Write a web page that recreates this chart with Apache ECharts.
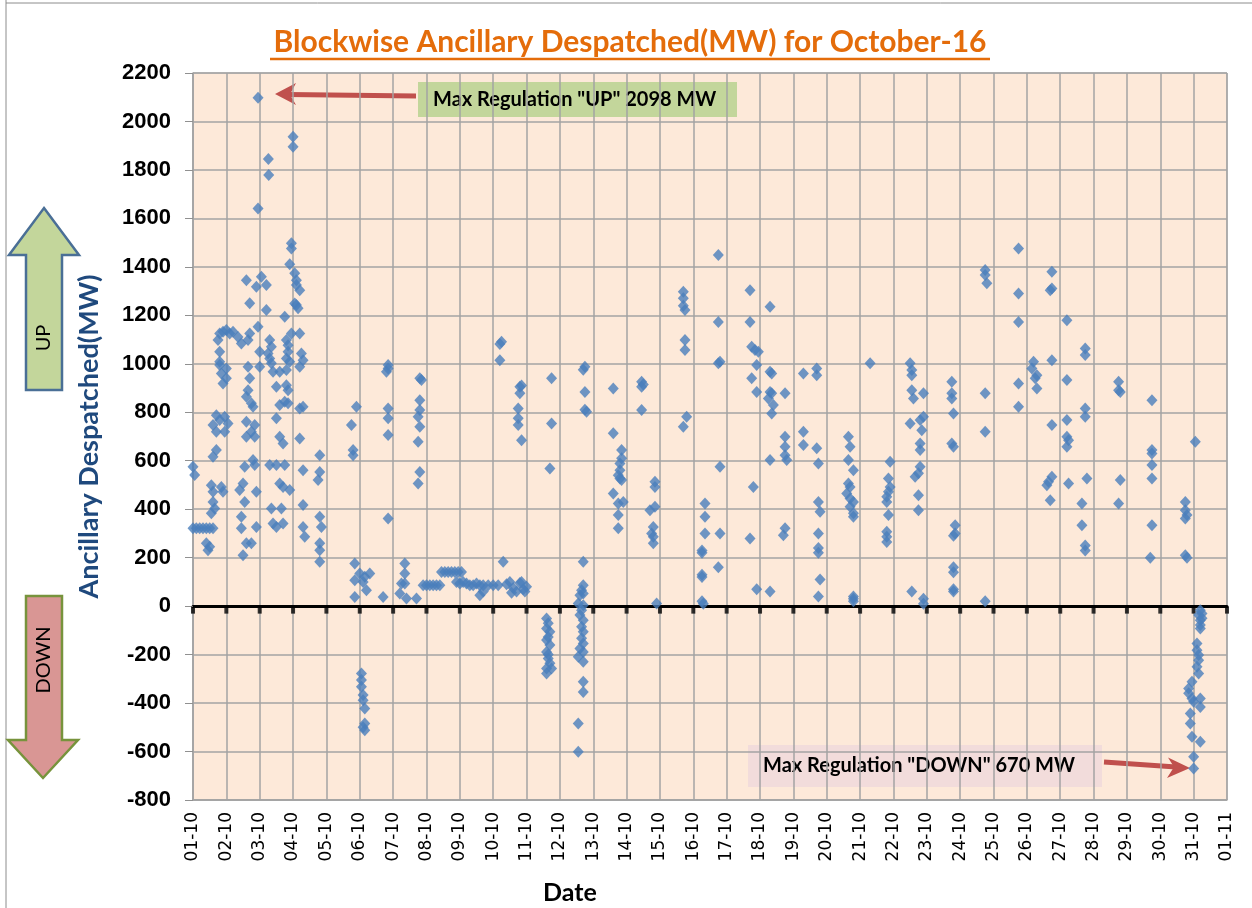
<!DOCTYPE html>
<html><head><meta charset="utf-8">
<script src="https://cdn.jsdelivr.net/npm/echarts@6/dist/echarts.min.js"></script>
<style>html,body{margin:0;padding:0;background:#fff}#c{width:1252px;height:908px}</style>
</head><body><div id="c"></div><script>
const tickLabels = ['01-10','02-10','03-10','04-10','05-10','06-10','07-10','08-10','09-10','10-10','11-10','12-10','13-10','14-10','15-10','16-10','17-10','18-10','19-10','20-10','21-10','22-10','23-10','24-10','25-10','26-10','27-10','28-10','29-10','30-10','31-10','01-11'];

// [day of month (fractional), MW]
const days01to03 = [[1.00,575],[1.05,541],[1.00,321],[1.10,321],[1.20,321],[1.30,321],[1.40,321],[1.50,321],[1.60,321],[1.40,259],[1.45,231],[1.50,245],[1.55,499],[1.60,472],[1.85,492],[1.90,472],[1.60,430],[1.65,403],[1.55,383],[1.70,644],[1.60,616],[1.70,788],[1.95,781],[1.60,747],[2.05,754],[1.70,720],[1.95,720],[1.80,768],[1.80,1050],[1.80,1008],[1.80,995],[2.00,981],[1.85,960],[2.00,940],[1.90,919],[1.80,1125],[2.00,1139],[2.20,1132],[2.35,1111],[2.45,1084],[1.75,1098],[1.90,1132],[2.10,1125],[2.70,1125],[2.65,1098],
[2.50,506],[2.40,479],[2.90,472],[2.55,430],[2.45,369],[2.45,321],[2.90,327],[2.60,259],[2.75,259],[2.50,210],[2.55,575],[2.80,603],[2.85,582],[2.60,761],[2.85,747],[2.75,720],[2.60,699],[2.85,699],[2.65,891],[2.60,864],[2.75,837],[2.80,823],[2.65,988],[2.70,940],[3.00,988],[3.00,1050],[2.95,1153],[2.60,1345],[3.05,1359],[2.90,1318],[3.20,1325],[2.70,1250],[3.20,1222],[2.95,1641],[2.95,2098],[3.26,1845],[3.27,1779]];

const days03to05 = [[3.40,967],[3.60,967],[3.80,974],[3.50,905],[3.80,912],[3.85,891],[3.60,830],[3.75,843],[3.85,837],[3.50,775],[3.60,699],[3.70,671],[3.30,582],[3.50,582],[3.75,582],[3.60,506],[3.70,492],[3.90,479],[3.35,403],[3.65,403],[3.40,341],[3.70,341],[3.50,327],[3.25,1043],[3.30,1022],[3.35,1002],[3.30,1098],[3.35,1070],[3.80,1098],[3.85,1077],[3.85,1050],[3.80,1022],[3.90,1008],[3.95,1125],[4.20,1125],[4.25,1043],[4.30,1015],[4.20,988],[4.30,823],[4.20,816],[4.20,692],[4.30,561],[4.30,417],[4.30,327],[4.35,286],[3.75,1194],[4.10,1243],[4.05,1249],[4.15,1229],[3.90,1411],[4.05,1374],[4.10,1345],[4.20,1304],[4.10,1325],[3.95,1497],[3.95,1476],[4.00,1937],[4.00,1896],
[4.80,623],[4.80,554],[4.75,520],[4.80,369],[4.85,327],[4.80,259],[4.80,231],[4.80,183]];

const days06to11 = [[5.90,823],[5.75,747],[5.80,644],[5.80,623],[5.85,176],[6.00,135],[6.15,121],[6.30,135],[5.85,107],[6.10,100],[6.20,66],[5.85,38],[6.05,-278],[6.05,-305],[6.05,-333],[6.10,-367],[6.10,-388],[6.15,-422],[6.15,-484],[6.15,-512],[6.10,-500],
[6.85,995],[6.80,967],[6.85,981],[6.85,816],[6.85,775],[6.85,706],[6.85,362],[6.70,38],[7.35,176],[7.35,135],[7.25,93],[7.35,93],[7.20,52],[7.40,31],[7.70,31],
[7.85,933],[7.80,940],[7.80,850],[7.80,809],[7.75,781],[7.80,740],[7.75,678],[7.80,554],[7.75,506],
[7.90,86],[8.00,86],[8.10,86],[8.20,86],[8.30,86],[8.40,86],[8.45,141],[8.55,141],[8.65,141],[8.75,141],[8.85,141],[8.95,141],[9.05,141],[8.90,100],[9.00,93],[9.10,100],[9.20,93],[9.30,86],[9.40,86],[9.50,93],[9.60,86],[9.60,45],[9.70,60],[9.70,86],[9.85,86],[10.00,86],[10.15,86],[10.30,183],[10.40,90],[10.50,100],[10.60,75],[10.70,60],[10.80,95],[10.90,70],[11.00,80],[10.55,55],[10.85,100],[10.95,60],
[10.25,1091],[10.20,1082],[10.20,1015],[10.80,905],[10.80,878],[10.75,816],[10.75,775],[10.75,747],[10.85,685],[10.85,910]];

const days12to18 = [[11.75,940],[11.75,754],[11.70,568],[11.60,-51],[11.65,-71],[11.60,-92],[11.70,-106],[11.65,-127],[11.60,-140],[11.60,-189],[11.65,-216],[11.70,-236],[11.60,-257],[11.75,-257],[11.60,-278],[11.65,-200],[11.70,-160],
[12.75,988],[12.70,975],[12.75,884],[12.80,802],[12.75,810],[12.70,183],[12.70,86],[12.65,66],[12.70,52],[12.60,45],[12.55,11],[12.70,4],[12.65,-17],[12.60,-37],[12.70,-58],[12.65,-85],[12.70,-106],[12.65,-133],[12.70,-154],[12.60,-175],[12.70,-189],[12.55,-209],[12.70,-230],[12.70,-312],[12.70,-354],[12.55,-484],[12.55,-601],
[13.60,898],[13.60,713],[13.60,465],[13.85,644],[13.80,589],[13.80,561],[13.80,527],[13.85,520],[13.75,424],[13.90,430],[13.75,376],[13.75,321],[13.85,610],[13.75,540],
[14.45,926],[14.45,905],[14.45,809],[14.50,915],[14.85,513],[14.85,492],[14.70,396],[14.85,410],[14.80,327],[14.80,286],[14.80,259],[14.90,11],[14.75,300],
[15.70,1297],[15.70,1270],[15.75,1222],[15.70,1240],[15.75,1098],[15.75,1057],[15.80,781],[15.70,740],
[16.35,424],[16.35,369],[16.35,300],[16.80,300],[16.26,230],[16.26,220],[16.26,130],[16.26,120],[16.26,20],[16.30,10],
[16.75,1449],[16.75,1173],[16.80,1008],[16.75,1002],[16.80,575],[16.75,160],
[17.70,1304],[17.70,1173],[17.75,1070],[17.85,1057],[17.95,1050],[17.90,995],[17.75,940],[17.90,884],[17.80,492],[17.70,279],[17.90,70]];

const days19to25 = [[18.30,1235],[18.30,967],[18.35,960],[18.30,884],[18.35,878],[18.25,857],[18.40,830],[18.35,795],[18.30,603],[18.30,60],
[18.75,878],[18.75,699],[18.75,658],[18.75,623],[18.80,603],[18.75,321],[18.70,293],
[19.30,960],[19.30,720],[19.30,665],
[19.70,981],[19.70,953],[19.70,651],[19.75,589],[19.75,430],[19.80,389],[19.75,300],[19.75,240],[19.75,220],[19.80,110],[19.75,40],
[20.65,699],[20.70,658],[20.65,603],[20.80,561],[20.65,506],[20.70,492],[20.60,465],[20.70,444],[20.80,430],[20.70,410],[20.80,383],[20.80,369],[20.80,40],[20.80,30],[20.80,20],
[21.30,1002],
[21.90,596],[21.85,527],[21.90,492],[21.85,472],[21.80,451],[21.80,430],[21.85,376],[21.80,307],[21.80,286],[21.80,265],
[22.50,1002],[22.55,974],[22.55,953],[22.55,891],[22.60,857],[22.90,878],[22.50,754],[22.80,768],[22.90,781],[22.85,726],[22.80,671],[22.80,644],[22.80,575],[22.75,548],[22.65,534],[22.75,458],[22.75,396],[22.55,60],[22.90,10],[22.90,30],
[23.75,926],[23.75,878],[23.75,857],[23.80,795],[23.75,671],[23.80,658],[23.85,334],[23.85,300],[23.80,290],[23.80,160],[23.80,140],[23.80,70],[23.80,60],
[24.75,1387],[24.75,1366],[24.80,1332],[24.75,878],[24.75,720],[24.75,20]];

const days26to31 = [[25.75,1476],[25.75,1290],[25.75,1173],[25.75,919],[25.75,823],
[26.20,1008],[26.15,981],[26.30,953],[26.25,940],[26.30,898],
[26.75,1380],[26.75,1311],[26.70,1304],[26.75,1015],[26.75,747],[26.75,534],[26.65,513],[26.60,499],[26.70,437],
[27.20,1180],[27.20,933],[27.20,768],[27.20,699],[27.25,685],[27.20,658],[27.25,506],
[27.75,1063],[27.75,1036],[27.75,816],[27.75,781],[27.80,527],[27.65,424],[27.65,334],[27.75,250],[27.75,230],
[28.75,926],[28.75,891],[28.80,884],[28.80,520],[28.75,424],
[29.75,850],[29.75,644],[29.75,630],[29.75,582],[29.75,527],[29.75,334],[29.70,200],
[30.75,430],[30.75,396],[30.80,376],[30.75,362],[30.75,210],[30.80,200],[31.05,678],
[31.20,-17],[31.15,-37],[31.20,-58],[31.20,-78],[31.20,-92],[31.10,-154],[31.10,-182],[31.15,-202],[31.15,-223],[31.10,-250],[31.15,-278],[30.95,-312],[30.85,-340],[30.85,-360],[30.95,-381],[31.00,-395],[31.20,-381],[31.20,-416],[30.90,-443],[30.90,-484],[30.95,-539],[31.20,-560],[31.00,-622],[31.00,-670],[31.25,-30],[31.25,-50]];

const points = [].concat(days01to03, days03to05, days06to11, days12to18, days19to25, days26to31);
// tick marks under the zero line, one per date tick
const zeroTicks = tickLabels.map((_, i) => [i + 1, 0]);

const chart = echarts.init(document.getElementById('c'));
const gridCol = '#A3A3A3';
const option = {
  animation: false,
  backgroundColor: '#ffffff',
  grid: {left: 193, right: 25, top: 73, bottom: 108, show: true, backgroundColor: '#FDE9D9', borderColor: gridCol, borderWidth: 1},
  xAxis: [
    {type: 'value', min: 1, max: 32, interval: 1,
     axisLine: {onZero: false, lineStyle: {color: gridCol, width: 1.5}},
     axisTick: {show: false},
     axisLabel: {rotate: 90, margin: 12, fontFamily: 'DejaVu Sans', fontSize: 17, color: '#000',
                 showMinLabel: true, showMaxLabel: true,
                 formatter: v => tickLabels[Math.round(v) - 1] || ''},
     splitLine: {show: true, lineStyle: {color: gridCol, width: 1.5}}},
    {type: 'value', min: 1, max: 32, interval: 1, position: 'bottom',
     axisLine: {show: true, onZero: true, onZeroAxisIndex: 0, lineStyle: {color: '#000', width: 3}},
     axisTick: {show: false},
     axisLabel: {show: false}, splitLine: {show: false}}
  ],
  yAxis: {type: 'value', min: -800, max: 2200, interval: 200,
    name: 'Ancillary Despatched(MW)', nameLocation: 'middle', nameGap: 90,
    nameTextStyle: {color: '#1F497D', fontFamily: 'Lato', fontWeight: 'bold', fontSize: 27},
    axisLine: {show: true, lineStyle: {color: gridCol, width: 1.5}},
    axisTick: {show: true, length: 8, lineStyle: {color: '#909090'}},
    axisLabel: {margin: 22, fontFamily: 'Liberation Sans', fontWeight: 'bold', fontSize: 22, color: '#000',
                formatter: v => String(v)},
    splitLine: {show: true, lineStyle: {color: gridCol, width: 1.5}}},
  series: [
    {type: 'scatter', xAxisIndex: 0, yAxisIndex: 0, data: zeroTicks, symbol: 'rect', symbolSize: [4, 7],
     symbolOffset: [0, 4], itemStyle: {color: '#000'}, silent: true, z: 1},
    {type: 'scatter', xAxisIndex: 0, yAxisIndex: 0, data: points, symbol: 'diamond', symbolSize: [11, 12],
     itemStyle: {color: '#4A7EBB'}, z: 3}],
  graphic: [
    {type: 'line', shape: {x1: 6, y1: 0, x2: 6, y2: 908}, style: {stroke: '#8c8c8c', lineWidth: 1}},
    {type: 'line', shape: {x1: 6, y1: 3, x2: 1252, y2: 3}, style: {stroke: '#8c8c8c', lineWidth: 1}},
    {type: 'text', x: 630, y: 42, style: {text: 'Blockwise Ancillary Despatched(MW) for October-16', fill: '#E46C0A',
      font: 'bold 30px Lato', align: 'center', verticalAlign: 'middle', textAlign: 'center', textVerticalAlign: 'middle'}},
    {type: 'line', shape: {x1: 270, y1: 59, x2: 990, y2: 59}, style: {stroke: '#E46C0A', lineWidth: 2.5}},
    {type: 'text', x: 570, y: 893, style: {text: 'Date', fill: '#000', font: 'bold 25px Lato', align: 'center', verticalAlign: 'middle', textAlign: 'center', textVerticalAlign: 'middle'}},
    // UP annotation
    {type: 'rect', shape: {x: 418, y: 82, width: 319, height: 35}, style: {fill: '#C3D69B'}},
    {type: 'text', x: 433, y: 100, style: {text: 'Max Regulation "UP" 2098 MW', fill: '#000', font: 'bold 20px Lato', align: 'left', verticalAlign: 'middle', textAlign: 'left', textVerticalAlign: 'middle'}},
    {type: 'line', shape: {x1: 416, y1: 96, x2: 288, y2: 94.5}, style: {stroke: '#C0504D', lineWidth: 5}},
    {type: 'polygon', shape: {points: [[275, 94], [296, 83], [290, 94.5], [296, 105]]}, style: {fill: '#C0504D'}},
    // DOWN annotation
    {type: 'rect', shape: {x: 748, y: 745, width: 354, height: 42}, style: {fill: '#F2DCDB'}},
    {type: 'text', x: 763, y: 766, style: {text: 'Max Regulation "DOWN" 670 MW', fill: '#000', font: 'bold 20px Lato', align: 'left', verticalAlign: 'middle', textAlign: 'left', textVerticalAlign: 'middle'}},
    {type: 'line', shape: {x1: 1104, y1: 762, x2: 1176, y2: 767}, style: {stroke: '#C0504D', lineWidth: 5}},
    {type: 'polygon', shape: {points: [[1190, 768], [1168, 757.5], [1174, 767], [1167, 778]]}, style: {fill: '#C0504D'}},
    // Left UP arrow
    {type: 'polygon', shape: {points: [[44, 208], [79, 255], [62, 255], [62, 390], [26, 390], [26, 255], [9, 255]]},
      style: {fill: '#C3D69B', stroke: '#4A6F96', lineWidth: 2.5}},
    {type: 'text', x: 44, y: 338, rotation: Math.PI / 2, style: {text: 'UP', fill: '#000', font: '20px Lato', align: 'center', verticalAlign: 'middle', textAlign: 'center', textVerticalAlign: 'middle'}},
    // Left DOWN arrow
    {type: 'polygon', shape: {points: [[26, 596], [62, 596], [62, 740], [78, 740], [43, 778], [8, 740], [26, 740]]},
      style: {fill: '#D99694', stroke: '#77933C', lineWidth: 2.5}},
    {type: 'text', x: 44, y: 660, rotation: Math.PI / 2, style: {text: 'DOWN', fill: '#000', font: '20px Lato', align: 'center', verticalAlign: 'middle', textAlign: 'center', textVerticalAlign: 'middle'}}
  ]
};
chart.setOption(option);
</script></body></html>
